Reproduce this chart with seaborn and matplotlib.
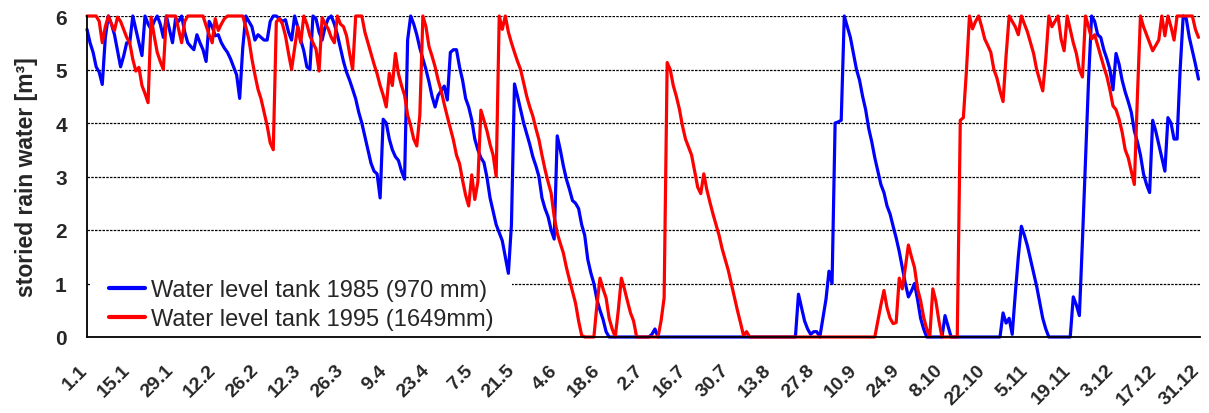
import matplotlib
matplotlib.use("Agg")
import matplotlib.pyplot as plt
import matplotlib.transforms as mtransforms
import numpy as np
import pandas as pd
import seaborn as sns

# tick labels every 14 days (day.month)
tick_labels = ["1.1", "15.1", "29.1", "12.2", "26.2", "12.3", "26.3", "9.4", "23.4",
               "7.5", "21.5", "4.6", "18.6", "2.7", "16.7", "30.7", "13.8", "27.8",
               "10.9", "24.9", "8.10", "22.10", "5.11", "19.11", "3.12", "17.12", "31.12"]

# daily tank level [m3], 1985 (970 mm rain)
level_1985 = [
    5.75, 5.5, 5.32, 5.05, 4.95, 4.72, 5.6, 6.0, 5.85, 5.65,
    5.35, 5.05, 5.25, 5.5, 5.5, 6.0, 5.75, 5.5, 5.26, 6.0,
    5.85, 5.75, 5.9, 6.0, 5.85, 5.6, 6.0, 5.75, 5.5, 5.95,
    5.9, 6.0, 5.7, 5.5, 5.43, 5.37, 5.65, 5.5, 5.37, 5.15,
    5.9, 5.8, 5.63, 5.65, 5.5, 5.4, 5.32, 5.2, 5.05, 4.9,
    4.46, 5.4, 6.0, 5.9, 5.8, 5.55, 5.65, 5.6, 5.55, 5.55,
    5.9, 6.0, 6.0, 5.95, 5.9, 5.93, 5.7, 5.55, 6.0, 5.8,
    5.55, 5.35, 5.05, 5.0, 6.0, 5.95, 5.7, 5.55, 5.8, 5.95,
    6.0, 5.85, 5.65, 5.4, 5.15, 4.95, 4.8, 4.63, 4.45, 4.2,
    4.0, 3.75, 3.5, 3.25, 3.1, 3.05, 2.6, 4.07, 4.0, 3.7,
    3.5, 3.37, 3.3, 3.1, 2.95, 5.55, 6.0, 5.85, 5.65, 5.4,
    5.2, 5.0, 4.77, 4.5, 4.3, 4.52, 4.6, 4.69, 4.43, 5.32,
    5.37, 5.37, 5.05, 4.8, 4.46, 4.3, 4.06, 3.7, 3.5, 3.35,
    3.26, 2.98, 2.6, 2.35, 2.1, 1.95, 1.8, 1.5, 1.19, 2.1,
    4.73, 4.5, 4.25, 4.0, 3.8, 3.6, 3.37, 3.2, 3.0, 2.6,
    2.4, 2.25, 2.0, 1.83, 3.76, 3.5, 3.2, 2.95, 2.76, 2.55,
    2.5, 2.4, 2.1, 1.9, 1.45, 1.2, 1.0, 0.7, 0.5, 0.33,
    0.1, 0.0, 0.0, 0.0, 0.0, 0.0, 0.0, 0.0, 0.0, 0.0,
    0.0, 0.0, 0.0, 0.0, 0.0, 0.05, 0.15, 0.0, 0.0, 0.0,
    0.0, 0.0, 0.0, 0.0, 0.0, 0.0, 0.0, 0.0, 0.0, 0.0,
    0.0, 0.0, 0.0, 0.0, 0.0, 0.0, 0.0, 0.0, 0.0, 0.0,
    0.0, 0.0, 0.0, 0.0, 0.0, 0.0, 0.0, 0.0, 0.0, 0.0,
    0.0, 0.0, 0.0, 0.0, 0.0, 0.0, 0.0, 0.0, 0.0, 0.0,
    0.0, 0.0, 0.0, 0.8, 0.55, 0.3, 0.15, 0.05, 0.1, 0.1,
    0.0, 0.35, 0.7, 1.23, 1.0, 4.0, 4.02, 4.05, 6.0, 5.8,
    5.6, 5.3, 5.0, 4.8, 4.5, 4.25, 3.9, 3.65, 3.35, 3.1,
    2.85, 2.7, 2.45, 2.3, 2.07, 1.85, 1.6, 1.3, 1.0, 0.75,
    0.86, 1.0, 0.7, 0.35, 0.15, 0.0, 0.0, 0.0, 0.0, 0.0,
    0.0, 0.4, 0.2, 0.0, 0.0, 0.0, 0.0, 0.0, 0.0, 0.0,
    0.0, 0.0, 0.0, 0.0, 0.0, 0.0, 0.0, 0.0, 0.0, 0.0,
    0.45, 0.26, 0.35, 0.05, 0.8, 1.5, 2.07, 1.9, 1.7, 1.45,
    1.2, 0.95, 0.65, 0.35, 0.15, 0.0, 0.0, 0.0, 0.0, 0.0,
    0.0, 0.0, 0.0, 0.75, 0.6, 0.4, 1.8, 3.3, 4.8, 6.0,
    5.9, 5.65, 5.6, 5.37, 5.2, 5.0, 4.62, 5.3, 5.1, 4.8,
    4.58, 4.4, 4.2, 3.85, 3.65, 3.4, 3.05, 2.85, 2.7, 4.05,
    3.85, 3.6, 3.35, 3.1, 4.1, 4.0, 3.7, 3.7, 5.0, 6.0,
    5.95, 5.6, 5.35, 5.1, 4.82,
]

# daily tank level [m3], 1995 (1649 mm rain)
level_1995 = [
    6.0, 6.0, 6.0, 6.0, 5.9, 5.5, 5.8, 6.0, 5.85, 5.73,
    5.98, 5.9, 5.75, 5.6, 5.5, 5.19, 4.97, 5.04, 4.7, 4.55,
    4.38, 5.98, 5.63, 5.32, 5.15, 5.0, 6.0, 6.0, 6.0, 6.0,
    5.75, 5.5, 5.9, 6.0, 6.0, 6.0, 6.0, 6.0, 6.0, 5.82,
    5.65, 5.5, 5.95, 5.73, 5.85, 5.95, 6.0, 6.0, 6.0, 6.0,
    6.0, 6.0, 5.8, 5.57, 5.2, 4.9, 4.63, 4.45, 4.2, 3.95,
    3.63, 3.5, 5.89, 5.95, 5.85, 5.63, 5.3, 5.0, 5.4, 5.8,
    5.5, 6.0, 5.85, 5.63, 5.5, 5.38, 4.97, 5.97, 5.85, 5.76,
    5.6, 5.5, 6.0, 5.85, 5.8, 5.63, 5.3, 5.0, 6.0, 6.0,
    6.0, 5.7, 5.5, 5.3, 5.1, 4.92, 4.7, 4.52, 4.3, 4.93,
    4.7, 5.3, 4.92, 4.7, 4.52, 4.15, 3.95, 3.7, 3.57, 4.15,
    6.0, 5.8, 5.43, 5.25, 5.05, 4.8, 4.6, 4.35, 4.12, 3.9,
    3.68, 3.4, 3.24, 2.93, 2.65, 2.45, 3.03, 2.57, 2.9, 4.24,
    4.05, 3.85, 3.6, 3.4, 3.0, 6.0, 5.75, 6.0, 5.7, 5.5,
    5.32, 5.15, 5.0, 4.75, 4.5, 4.3, 4.13, 3.9, 3.69, 3.4,
    3.13, 2.9, 2.69, 2.25, 1.94, 1.75, 1.57, 1.3, 1.07, 0.85,
    0.63, 0.3, 0.03, 0.0, 0.0, 0.0, 0.0, 0.6, 1.1, 0.9,
    0.73, 0.35, 0.15, 0.0, 0.5, 1.1, 0.9, 0.67, 0.45, 0.3,
    0.0, 0.0, 0.0, 0.0, 0.0, 0.0, 0.0, 0.0, 0.3, 0.73,
    5.13, 5.0, 4.7, 4.5, 4.26, 3.95, 3.7, 3.55, 3.4, 3.1,
    2.8, 2.68, 3.05, 2.75, 2.52, 2.3, 2.1, 1.9, 1.65, 1.45,
    1.25, 1.0, 0.75, 0.5, 0.27, 0.03, 0.1, 0.0, 0.0, 0.0,
    0.0, 0.0, 0.0, 0.0, 0.0, 0.0, 0.0, 0.0, 0.0, 0.0,
    0.0, 0.0, 0.0, 0.0, 0.0, 0.0, 0.0, 0.0, 0.0, 0.0,
    0.0, 0.0, 0.0, 0.0, 0.0, 0.0, 0.0, 0.0, 0.0, 0.0,
    0.0, 0.0, 0.0, 0.0, 0.0, 0.0, 0.0, 0.0, 0.0, 0.3,
    0.6, 0.87, 0.55, 0.35, 0.25, 0.27, 1.1, 0.9, 1.3, 1.72,
    1.5, 1.3, 0.9, 0.68, 0.37, 0.15, 0.0, 0.9, 0.67, 0.3,
    0.0, 0.0, 0.0, 0.0, 0.0, 0.0, 4.05, 4.1, 4.97, 6.0,
    5.76, 5.9, 6.0, 5.8, 5.57, 5.45, 5.32, 5.0, 4.84, 4.6,
    4.4, 5.26, 6.0, 5.9, 5.8, 5.65, 6.0, 5.85, 5.7, 5.5,
    5.3, 5.0, 4.8, 4.6, 5.2, 6.0, 5.8, 5.9, 6.0, 5.57,
    5.35, 6.0, 5.75, 5.5, 5.3, 5.0, 4.86, 6.0, 5.8, 5.57,
    5.65, 5.45, 5.25, 5.05, 4.87, 4.62, 4.32, 4.25, 4.07, 3.83,
    3.5, 3.35, 3.1, 2.85, 4.5, 6.0, 5.8, 5.65, 5.5, 5.35,
    5.45, 5.55, 6.0, 5.63, 6.0, 5.8, 5.55, 6.0, 6.0, 6.0,
    6.0, 6.0, 6.0, 5.75, 5.6,
]

label_1985 = "Water level tank 1985 (970 mm)"
label_1995 = "Water level tank 1995 (1649mm)"

df = pd.concat([
    pd.DataFrame({"day": np.arange(len(level_1985)), "level": level_1985, "series": label_1985}),
    pd.DataFrame({"day": np.arange(len(level_1995)), "level": level_1995, "series": label_1995}),
])

sns.set_theme(style="white")
plt.rcParams['font.family'] = ['Liberation Sans', 'DejaVu Sans']

fig = plt.figure(figsize=(12.09, 4.14), dpi=100)
ax = fig.add_axes([87 / 1209, 1 - 338 / 414, (1200 - 87) / 1209, (338 - 17) / 414])

sns.lineplot(data=df, x="day", y="level", hue="series",
             palette={label_1985: "#0000ff", label_1995: "#ff0000"},
             linewidth=2.3, ax=ax, zorder=3, clip_on=False)

ax.set_xlim(0, 364.5)
ax.set_ylim(0, 6)

# dashed grid lines drawn low so the legend box can hide them
for yv in range(1, 7):
    ax.axhline(yv, color="black", linestyle=(0, (2, 1)), linewidth=0.9, zorder=1)

for side in ["top", "right"]:
    ax.spines[side].set_visible(False)
for side in ["left", "bottom"]:
    ax.spines[side].set_color("black")
    ax.spines[side].set_linewidth(1.3)
    ax.spines[side].set_zorder(4)

ax.set_xticks(np.arange(0, 365, 14))
ax.set_xticklabels(tick_labels, rotation=45, ha="right", va="top",
                   rotation_mode="anchor", fontsize=14, fontweight="bold")
ax.set_yticks(range(0, 7))
ax.set_yticklabels([str(v) for v in range(0, 7)], fontsize=15, fontweight="bold")
ax.tick_params(axis="both", direction="inout", length=9, width=1.3, color="black")
ax.tick_params(axis="x", pad=13)
ax.tick_params(axis="y", pad=10)
shift = mtransforms.ScaledTranslation(-8 / 100, 0, fig.dpi_scale_trans)
for lab in ax.get_xticklabels():
    lab.set_transform(lab.get_transform() + shift)

ax.set_xlabel("")
ax.set_ylabel("storied rain water [m³]", fontsize=16.5, fontweight="bold", labelpad=12)

leg = ax.legend(loc="upper left", bbox_to_anchor=(0.003, 0.238), borderaxespad=0,
                fontsize=17, frameon=True, facecolor="white", edgecolor="none",
                framealpha=1, fancybox=False, handlelength=1.5, handletextpad=0.25,
                labelspacing=0.28, borderpad=0.8)
for line in leg.get_lines():
    line.set_linewidth(3)
leg.set_zorder(2)

fig.savefig("out.png", dpi=100)
